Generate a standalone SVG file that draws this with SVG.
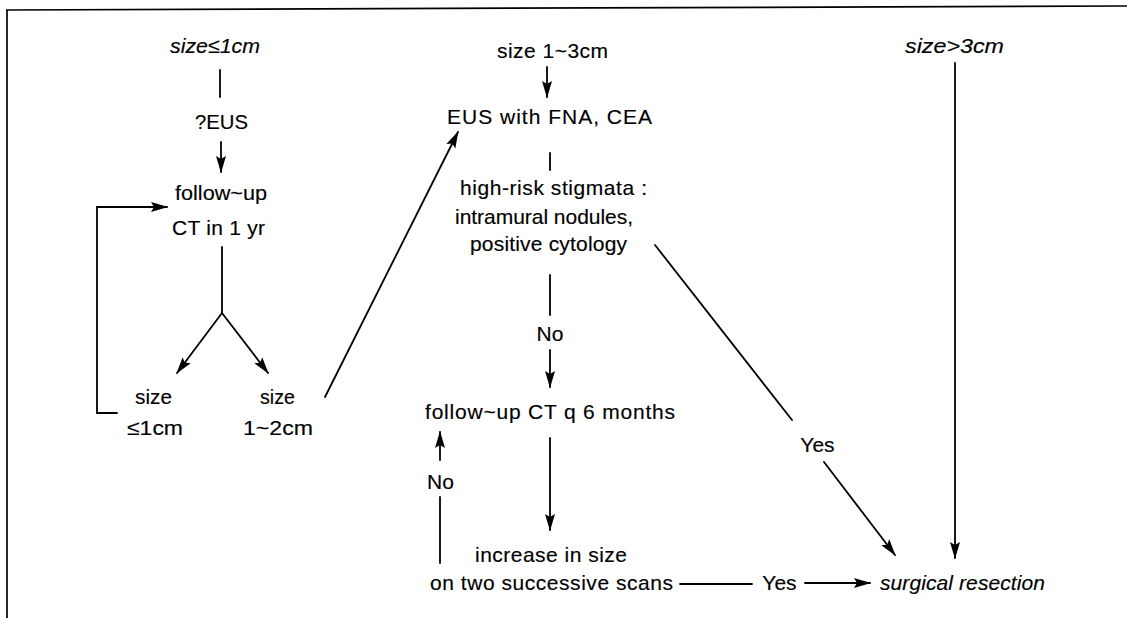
<svg xmlns="http://www.w3.org/2000/svg" width="1127" height="618" viewBox="0 0 1127 618">
<style>
text{font-family:"Liberation Sans",Arial,sans-serif;font-size:21px;fill:#000;stroke:#000;stroke-width:0.15;text-anchor:middle}
.it{font-style:italic}
.ln{stroke:#000;stroke-width:1.8;fill:none;stroke-linecap:round}
.brd{stroke:#000;stroke-width:1.7;fill:none}
</style>
<defs>
<marker id="ah" viewBox="0 0 17 11" refX="16" refY="5.5" markerWidth="17" markerHeight="11" orient="auto" markerUnits="userSpaceOnUse">
<path d="M0,0.5 L17,5.5 L0,10.5 L3,5.5 z" fill="#000"/>
</marker>
</defs>
<rect width="1127" height="618" fill="#fff"/>
<g id="border">
<path class="brd" d="M6,10 L1127,6"/>
<path class="brd" d="M7,10 L7,618"/>
</g>
<g id="connectors">
<path class="ln" d="M220,70 L220,97"/>
<path class="ln" d="M221,142 L221,172" marker-end="url(#ah)"/>
<path class="ln" d="M117,413 L97,413 L97,207 L167,207" marker-end="url(#ah)"/>
<path class="ln" d="M222,247 L222,313"/>
<path class="ln" d="M222,313 L177,373" marker-end="url(#ah)"/>
<path class="ln" d="M222,313 L268,373" marker-end="url(#ah)"/>
<path class="ln" d="M325,397 L458,132" marker-end="url(#ah)"/>
<path class="ln" d="M547,67 L547,97" marker-end="url(#ah)"/>
<path class="ln" d="M550,153 L550,170"/>
<path class="ln" d="M550,275 L550,315"/>
<path class="ln" d="M550,350 L550,387" marker-end="url(#ah)"/>
<path class="ln" d="M550,438 L550,530" marker-end="url(#ah)"/>
<path class="ln" d="M440,563 L440,497"/>
<path class="ln" d="M440,460 L440,432" marker-end="url(#ah)"/>
<path class="ln" d="M680,584 L752,584"/>
<path class="ln" d="M805,583 L870,583" marker-end="url(#ah)"/>
<path class="ln" d="M655,245 L792,420"/>
<path class="ln" d="M824,462 L895,555" marker-end="url(#ah)"/>
<path class="ln" d="M955,63 L955,558" marker-end="url(#ah)"/>
</g>
<g id="n_size_le1"><text class="it" x="215" y="53" textLength="90" lengthAdjust="spacingAndGlyphs">size≤1cm</text></g>
<g id="n_eus_q"><text x="221.5" y="129" textLength="53" lengthAdjust="spacingAndGlyphs">?EUS</text></g>
<g id="n_fu1yr">
<text x="221" y="200" textLength="92" lengthAdjust="spacingAndGlyphs">follow~up</text>
<text x="218.5" y="235" textLength="93" lengthAdjust="spacing">CT in 1 yr</text>
</g>
<g id="n_small">
<text x="153.5" y="404" textLength="37" lengthAdjust="spacingAndGlyphs">size</text>
<text x="155" y="435" textLength="56" lengthAdjust="spacingAndGlyphs">≤1cm</text>
</g>
<g id="n_mid">
<text x="277.5" y="404" textLength="35" lengthAdjust="spacingAndGlyphs">size</text>
<text x="278" y="435" textLength="70" lengthAdjust="spacingAndGlyphs">1~2cm</text>
</g>
<g id="n_size13"><text x="552.5" y="58" textLength="111" lengthAdjust="spacing">size 1~3cm</text></g>
<g id="n_eus"><text x="549.5" y="124" textLength="205" lengthAdjust="spacing">EUS with FNA, CEA</text></g>
<g id="n_stigmata">
<text x="553.5" y="195" textLength="187" lengthAdjust="spacing">high-risk stigmata :</text>
<text x="544" y="224" textLength="178" lengthAdjust="spacing">intramural nodules,</text>
<text x="548.5" y="251" textLength="157" lengthAdjust="spacing">positive cytology</text>
</g>
<g id="l_no1"><text x="550" y="341">No</text></g>
<g id="n_fu6"><text x="550" y="419" textLength="250" lengthAdjust="spacing">follow~up CT q 6 months</text></g>
<g id="l_no2"><text x="440.5" y="489">No</text></g>
<g id="n_increase">
<text x="551" y="562" textLength="152" lengthAdjust="spacing">increase in size</text>
<text x="551.5" y="590" textLength="243" lengthAdjust="spacing">on two successive scans</text>
</g>
<g id="l_yes1"><text x="817.5" y="452">Yes</text></g>
<g id="l_yes2"><text x="779.5" y="590">Yes</text></g>
<g id="n_surgery"><text class="it" x="962.5" y="590" textLength="165" lengthAdjust="spacing">surgical resection</text></g>
<g id="n_size_gt3"><text class="it" x="954.5" y="53" textLength="99" lengthAdjust="spacingAndGlyphs">size&gt;3cm</text></g>
</svg>
